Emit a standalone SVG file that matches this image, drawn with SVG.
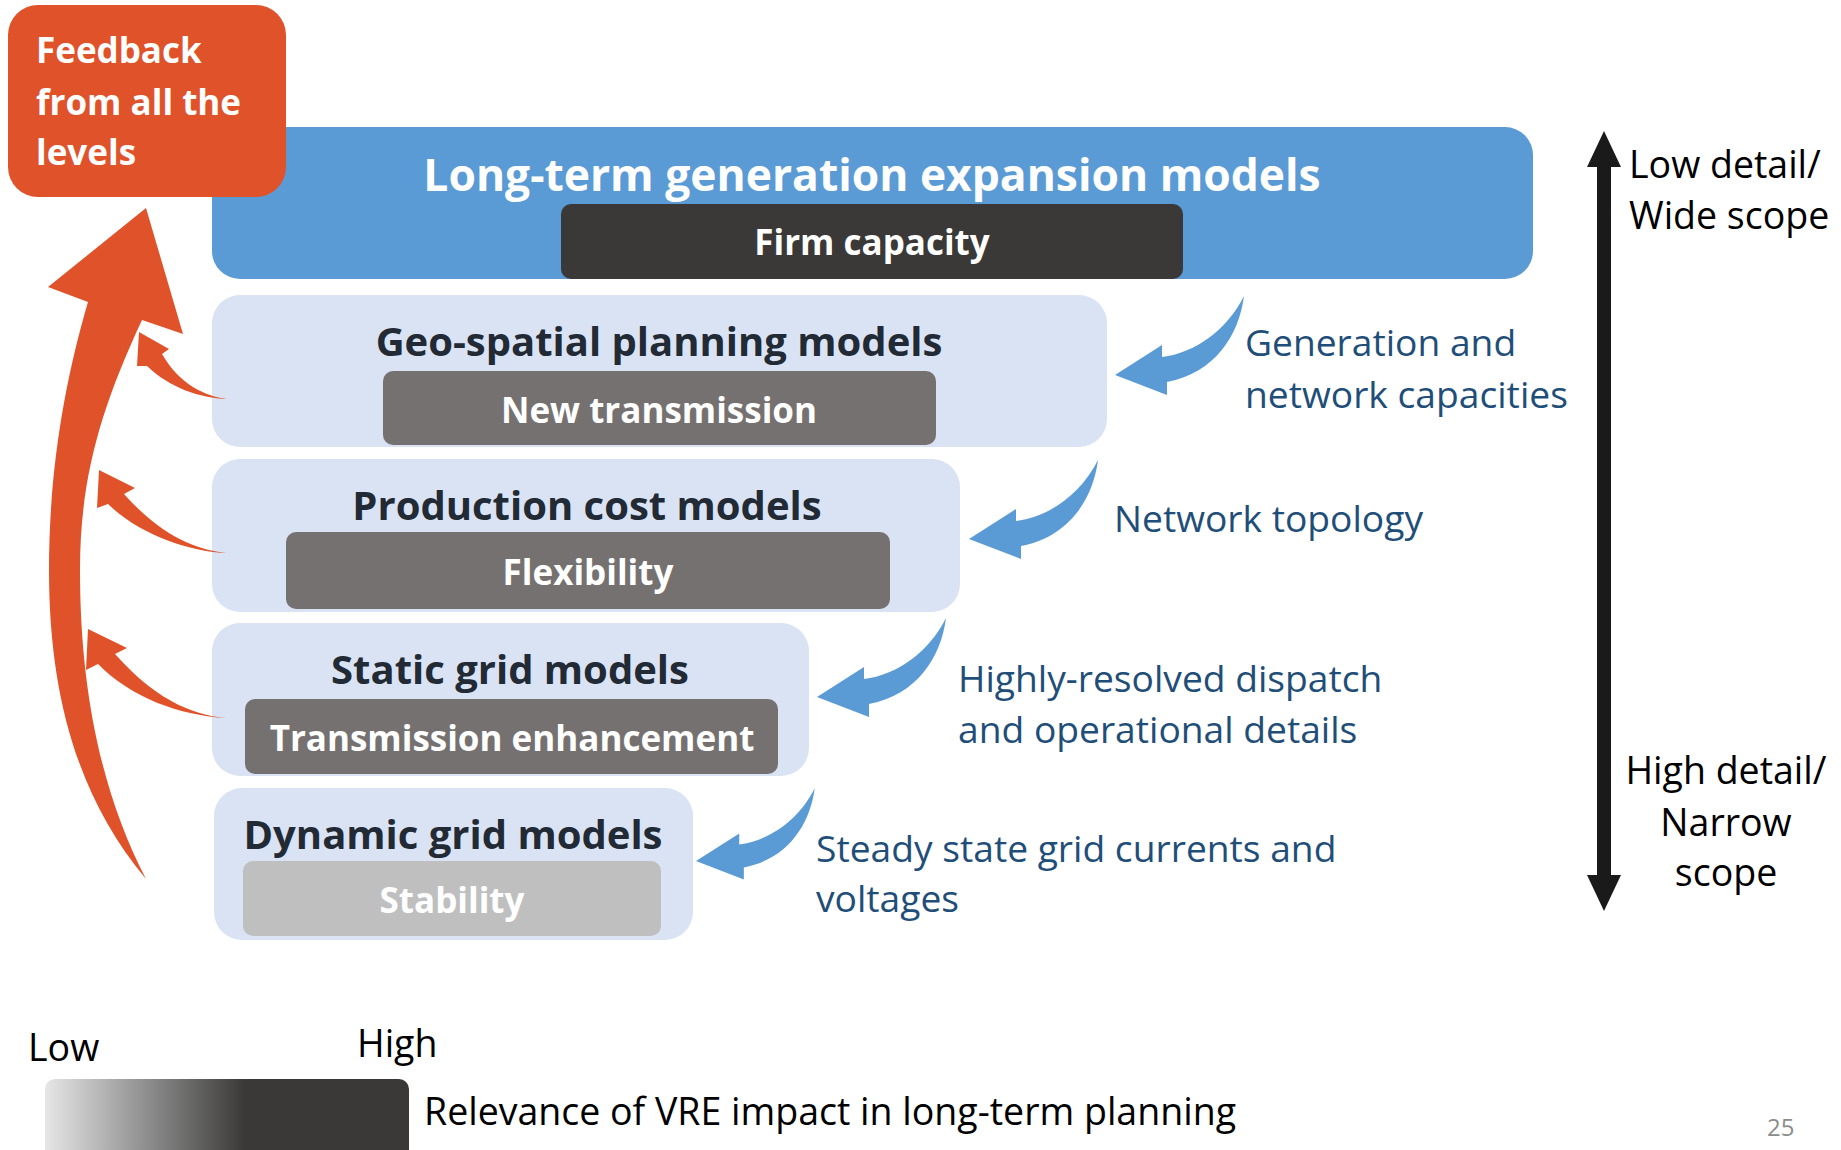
<svg xmlns="http://www.w3.org/2000/svg" width="1841" height="1150" viewBox="0 0 1841 1150">
<style>
.t{font-family:"Open Sans","DejaVu Sans",sans-serif}
.w{fill:#fff;font-weight:bold}
.h{fill:#222A35;font-weight:bold;font-size:40px}
.lab{fill:#1F4E79;font-size:37.2px}
.blk{fill:#000;font-size:37.5px}
.lt{fill:#DAE3F3}
.gy{fill:#767171}
.oa{fill:#E0532A}
.ba{fill:#5B9BD5}
</style>
<defs>
<path id="barrow" d="M0,0 L47,-30 L47,-18 C80,-22 112,-45 129,-79 C124,-40 100,-2 52,7 L52,20 Z"/>
<linearGradient id="grad" x1="0" y1="0" x2="1" y2="0">
<stop offset="0" stop-color="#E6E6E6"/>
<stop offset="0.55" stop-color="#3A3938"/>
<stop offset="1" stop-color="#3A3938"/>
</linearGradient>
</defs>
<rect width="1841" height="1150" fill="#fff"/>

<g id="node-longterm">
<rect x="212" y="127" width="1321" height="152" rx="28" class="ba"/>
<text class="t w" font-size="44.4" x="872" y="191" text-anchor="middle">Long-term generation expansion models</text>
<rect x="561" y="204" width="622" height="75" rx="10" fill="#3A3938"/>
<text class="t w" font-size="35" x="872" y="255" text-anchor="middle">Firm capacity</text>
</g>

<g id="node-feedback">
<rect x="8" y="5" width="278" height="192" rx="30" class="oa"/>
<text class="t w" font-size="35" x="36" y="63">Feedback</text>
<text class="t w" font-size="35" x="36" y="115">from all the</text>
<text class="t w" font-size="35" x="36" y="165">levels</text>
</g>

<g id="node-geospatial">
<rect x="212" y="295" width="895" height="152" rx="28" class="lt"/>
<text class="t h" x="659" y="356" text-anchor="middle">Geo-spatial planning models</text>
<rect x="383" y="371" width="553" height="74" rx="10" class="gy"/>
<text class="t w" font-size="35" x="659" y="423" text-anchor="middle">New transmission</text>
</g>

<g id="node-production">
<rect x="212" y="459" width="748" height="153" rx="28" class="lt"/>
<text class="t h" x="587" y="520" text-anchor="middle">Production cost models</text>
<rect x="286" y="532" width="604" height="77" rx="10" class="gy"/>
<text class="t w" font-size="35" x="588" y="585" text-anchor="middle">Flexibility</text>
</g>

<g id="node-static">
<rect x="212" y="623" width="597" height="153" rx="28" class="lt"/>
<text class="t h" x="510" y="684" text-anchor="middle">Static grid models</text>
<rect x="245" y="699" width="533" height="75" rx="10" class="gy"/>
<text class="t w" font-size="35" x="512" y="751" text-anchor="middle">Transmission enhancement</text>
</g>

<g id="node-dynamic">
<rect x="214" y="788" width="479" height="152" rx="28" class="lt"/>
<text class="t h" x="453" y="849" text-anchor="middle">Dynamic grid models</text>
<rect x="243" y="861" width="418" height="75" rx="10" fill="#BFBFBF"/>
<text class="t w" font-size="35" x="452" y="913" text-anchor="middle">Stability</text>
</g>

<g id="connectors">
<path class="oa" d="M146,208 L183,334 L142,320 C100,410 80,480 80,570 C80,700 105,800 146,879 C80,800 49,700 49,570 C49,470 65,380 88,302 L48,287 Z"/>
<path class="oa" d="M227,399 C205,396 180,385 162,354 L169,349 L139,332 L137,366 L147,366 C170,388 200,398 227,399 Z"/>
<path class="oa" d="M227,553 C200,550 165,540 124,494 L135,488 L99,470 L97,508 L108,504 C140,535 190,552 227,553 Z"/>
<path class="oa" d="M227,718 C200,716 160,705 115,654 L127,648 L88,629 L86,670 L98,664 C130,697 180,716 227,718 Z"/>
<use href="#barrow" class="ba" transform="translate(1115,375)"/>
<use href="#barrow" class="ba" transform="translate(969,539)"/>
<use href="#barrow" class="ba" transform="translate(817,697)"/>
<use href="#barrow" class="ba" transform="translate(696,861) scale(0.92)"/>
<g id="scale-arrow" fill="#1A1A1A">
<rect x="1597" y="160" width="14" height="722"/>
<path d="M1604,131 L1621,167 L1587,167 Z"/>
<path d="M1604,911 L1621,875 L1587,875 Z"/>
</g>
</g>

<g id="labels">
<text class="t lab" x="1245" y="356">Generation and</text>
<text class="t lab" x="1245" y="408">network capacities</text>
<text class="t lab" x="1114" y="532">Network topology</text>
<text class="t lab" x="958" y="692">Highly-resolved dispatch</text>
<text class="t lab" x="958" y="743">and operational details</text>
<text class="t lab" x="816" y="862">Steady state grid currents and</text>
<text class="t lab" x="816" y="912">voltages</text>
<text class="t blk" x="1629" y="178">Low detail/</text>
<text class="t blk" x="1629" y="229">Wide scope</text>
<text class="t blk" x="1726" y="784" text-anchor="middle">High detail/</text>
<text class="t blk" x="1726" y="836" text-anchor="middle">Narrow</text>
<text class="t blk" x="1726" y="886" text-anchor="middle">scope</text>
</g>

<g id="legend">
<text class="t blk" x="28" y="1061">Low</text>
<text class="t blk" x="357" y="1057">High</text>
<rect x="45" y="1079" width="364" height="90" rx="10" fill="url(#grad)"/>
<text class="t blk" x="424" y="1125">Relevance of VRE impact in long-term planning</text>
<text class="t" x="1767" y="1136" font-size="24" fill="#8C8C8C">25</text>
</g>
</svg>
